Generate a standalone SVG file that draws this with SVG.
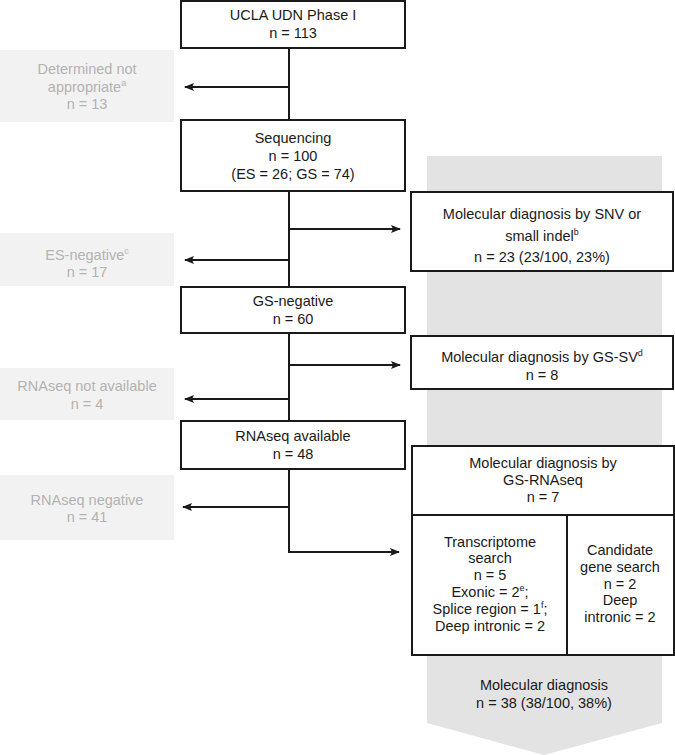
<svg xmlns="http://www.w3.org/2000/svg" width="675" height="755" viewBox="0 0 675 755">
<defs>
<style>
.box{fill:#fff;stroke:#1a1a1a;stroke-width:2}
.gbox{fill:#f2f2f2;stroke:none}
.t{font-family:"Liberation Sans",Arial,sans-serif;font-size:14.5px;fill:#1a1a1a;text-anchor:middle}
.g{font-family:"Liberation Sans",Arial,sans-serif;font-size:14.5px;fill:#b3b3b3;text-anchor:middle}
.sup{font-size:9px}
.ln{fill:none;stroke:#1a1a1a;stroke-width:2}
</style>
<marker id="ah" viewBox="0 0 10 10" refX="9" refY="5" markerWidth="5" markerHeight="5" orient="auto" markerUnits="strokeWidth">
<path d="M0,1 L10,5 L0,9 L2,5 Z" fill="#1a1a1a"/>
</marker>
</defs>
<rect width="675" height="755" fill="#fff"/>
<g id="bigarrow"><polygon points="427,156 662,156 662,723 544,755 427,723" fill="#e3e3e3"/>
<text class="t" x="544" y="690">Molecular diagnosis</text>
<text class="t" x="544" y="708">n = 38 (38/100, 38%)</text></g>
<g id="connectors">
<line class="ln" x1="289" y1="48" x2="289" y2="120"/>
<line class="ln" x1="289" y1="87" x2="185" y2="87" marker-end="url(#ah)"/>
<line class="ln" x1="289" y1="191" x2="289" y2="287"/>
<line class="ln" x1="289" y1="229" x2="400" y2="229" marker-end="url(#ah)"/>
<line class="ln" x1="289" y1="260" x2="185" y2="260" marker-end="url(#ah)"/>
<line class="ln" x1="289" y1="333" x2="289" y2="421"/>
<line class="ln" x1="289" y1="365" x2="400" y2="365" marker-end="url(#ah)"/>
<line class="ln" x1="289" y1="399" x2="185" y2="399" marker-end="url(#ah)"/>
<path class="ln" d="M289,469 V552 H399" marker-end="url(#ah)"/>
<line class="ln" x1="289" y1="507" x2="183" y2="507" marker-end="url(#ah)"/>
</g>
<g id="n1"><rect class="box" x="181" y="1" width="224" height="47"/>
<text class="t" x="293" y="20">UCLA UDN Phase I</text>
<text class="t" x="293" y="38">n = 113</text></g>
<g id="n2"><rect class="gbox" x="0" y="50" width="174" height="72"/>
<text class="g" x="87" y="74">Determined not</text>
<text class="g" x="87" y="92">appropriate<tspan class="sup" dy="-6">a</tspan></text>
<text class="g" x="87" y="109">n = 13</text></g>
<g id="n3"><rect class="box" x="181" y="120" width="224" height="71"/>
<text class="t" x="293" y="143">Sequencing</text>
<text class="t" x="293" y="161">n = 100</text>
<text class="t" x="293" y="179">(ES = 26; GS = 74)</text></g>
<g id="n4"><rect class="box" x="411" y="192" width="262" height="79"/>
<text class="t" x="542" y="219">Molecular diagnosis by SNV or</text>
<text class="t" x="542" y="241">small indel<tspan class="sup" dy="-6">b</tspan></text>
<text class="t" x="542" y="262">n = 23 (23/100, 23%)</text></g>
<g id="n5"><rect class="gbox" x="0" y="233" width="174" height="53"/>
<text class="g" x="87" y="260">ES-negative<tspan class="sup" dy="-6">c</tspan></text>
<text class="g" x="87" y="277">n = 17</text></g>
<g id="n6"><rect class="box" x="181" y="287" width="224" height="46"/>
<text class="t" x="293" y="306">GS-negative</text>
<text class="t" x="293" y="324">n = 60</text></g>
<g id="n7"><rect class="box" x="411" y="336" width="262" height="53"/>
<text class="t" x="542" y="362">Molecular diagnosis by GS-SV<tspan class="sup" dy="-6">d</tspan></text>
<text class="t" x="542" y="380">n = 8</text></g>
<g id="n8"><rect class="gbox" x="0" y="368" width="174" height="52"/>
<text class="g" x="87" y="391">RNAseq not available</text>
<text class="g" x="87" y="409">n = 4</text></g>
<g id="n9"><rect class="box" x="181" y="421" width="224" height="48"/>
<text class="t" x="293" y="441">RNAseq available</text>
<text class="t" x="293" y="459">n = 48</text></g>
<g id="n10"><rect class="gbox" x="0" y="475" width="174" height="65"/>
<text class="g" x="87" y="505">RNAseq negative</text>
<text class="g" x="87" y="522">n = 41</text></g>
<g id="n11"><rect class="box" x="412" y="446" width="262" height="209"/>
<line class="ln" x1="412" y1="515" x2="674" y2="515"/>
<line class="ln" x1="567" y1="515" x2="567" y2="655"/>
<text class="t" x="543" y="468">Molecular diagnosis by</text>
<text class="t" x="543" y="485">GS-RNAseq</text>
<text class="t" x="543" y="502">n = 7</text>
<text class="t" x="490" y="547">Transcriptome</text>
<text class="t" x="490" y="563">search</text>
<text class="t" x="490" y="580">n = 5</text>
<text class="t" x="490" y="597">Exonic = 2<tspan class="sup" dy="-6">e</tspan><tspan dy="6">;</tspan></text>
<text class="t" x="490" y="614">Splice region = 1<tspan class="sup" dy="-6">f</tspan><tspan dy="6">;</tspan></text>
<text class="t" x="490" y="631">Deep intronic = 2</text>
<text class="t" x="620" y="555">Candidate</text>
<text class="t" x="620" y="572">gene search</text>
<text class="t" x="620" y="589">n = 2</text>
<text class="t" x="620" y="605">Deep</text>
<text class="t" x="620" y="622">intronic = 2</text></g>
</svg>
